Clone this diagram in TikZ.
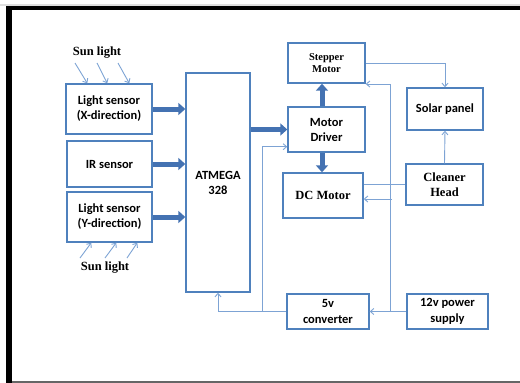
\documentclass[tikz,border=0pt]{standalone}
\usepackage{fontspec}
\setmainfont{Carlito}
\newfontfamily\serifb{Liberation Serif}
\usetikzlibrary{arrows.meta,calc}
\definecolor{boxblue}{RGB}{79,129,189}
\definecolor{wireblue}{RGB}{125,163,212}
\definecolor{fatblue}{RGB}{68,114,178}
\begin{document}
\begin{tikzpicture}[x=1pt,y=-1pt,
  box/.style={draw=boxblue,line width=1.4pt,fill=white,align=center,inner sep=0pt,
    font=\fontsize{12.5}{15}\selectfont\bfseries},
  sbox/.style={box,font=\fontsize{12.5}{15}\selectfont\serifb\bfseries},
  wire/.style={draw=wireblue,line width=0.9pt},
  warr/.style={wire,-{Straight Barb[length=3.5pt,width=6pt]}},
  fat/.style={draw=fatblue,line width=5pt,-{Triangle[length=7pt,width=12pt]}},
  lbl/.style={font=\fontsize{12.5}{15}\selectfont\serifb\bfseries}]
\useasboundingbox (0,0) rectangle (520,383);
% frame
\fill[gray!25] (0,3.5) rectangle (520,5.7);
\fill[black] (6,5.7) rectangle (520,10);
\fill[black] (6,5.7) rectangle (11.7,382.5);
\fill[gray!80!black] (11.7,380.7) rectangle (520,383);
% nodes
\node[box,minimum width=86pt,minimum height=50pt] (lsx) at (109,109) {Light sensor\\(X-direction)};
\node[box,minimum width=85pt,minimum height=46pt] (ir) at (109.5,164) {IR sensor};
\node[box,minimum width=85pt,minimum height=50pt] (lsy) at (109.5,217) {Light sensor\\(Y-direction)};
\node[box,minimum width=64pt,minimum height=219pt] (atm) at (218,182.5) {ATMEGA\\328};
\node[sbox,minimum width=77pt,minimum height=40pt,font=\fontsize{10.5}{12.5}\selectfont\serifb\bfseries] (step) at (326.5,63) {Stepper\\Motor};
\node[box,minimum width=77pt,minimum height=45pt] (drv) at (326.5,129.5) {Motor\\Driver};
\node[sbox,minimum width=80pt,minimum height=45pt] (dc) at (323,195.5) {DC Motor};
\node[box,minimum width=76pt,minimum height=42pt] (solar) at (445,109) {Solar panel};
\node[sbox,minimum width=77pt,minimum height=41pt] (clean) at (444.5,184.5) {Cleaner\\Head};
\node[box,minimum width=82pt,minimum height=35pt,font=\fontsize{12.5}{16}\selectfont\bfseries] (conv) at (328,311.5) {5v\\converter};
\node[box,minimum width=81pt,minimum height=35pt,font=\fontsize{12.5}{16}\selectfont\bfseries] (ps) at (447.5,311.5) {12v power\\supply};
% sun light labels
\node[lbl] (sun1) at (97,53) {Sun light};
\node[lbl] (sun2) at (105,268) {Sun light};
\coordinate (s1a) at (75,63);
\coordinate (s1b) at (97,63);
\coordinate (s1c) at (118,63);
\draw[warr] (s1a) -- ([xshift=22pt]lsx.north west);
\draw[warr] (s1b) -- ([xshift=42pt]lsx.north west);
\draw[warr] (s1c) -- ([xshift=64pt]lsx.north west);
\coordinate (s2a) at (80,258);
\coordinate (s2b) at (105,258);
\coordinate (s2c) at (127,258);
\draw[warr] (s2a) -- ([xshift=25pt]lsy.south west);
\draw[warr] (s2b) -- ([xshift=50pt]lsy.south west);
\draw[warr] (s2c) -- ([xshift=71pt]lsy.south west);
% fat arrows
\draw[fat] (lsx.east) -- (lsx.east -| atm.west);
\draw[fat] (ir.east) -- (ir.east -| atm.west);
\draw[fat] (lsy.east) -- (lsy.east -| atm.west);
\draw[fat] (drv.west -| atm.east) -- (drv.west);
\draw[fat] ([xshift=-4.5pt]drv.north) -- ([xshift=-4.5pt]step.south);
\draw[fat] ([xshift=-4.5pt]drv.south) -- ([xshift=-4.5pt]drv.south |- dc.north);
% thin wires
\draw[warr] (step.east) -- (step.east -| solar.north) -- (solar.north);
\draw[warr] (clean.north) -- (solar.south);
\draw[wire] (clean.west) -- (clean.west -| dc.east);
\coordinate (bt) at (390,84);
\coordinate (bd) at (392,199);
\coordinate (bb) at (390,311.5);
\draw[wire] (bb) -- (bt);
\draw[warr] (bt) -- (bt -| step.east);
\draw[warr] (bd) -- (bd -| dc.east);
\draw[warr] (ps.west) -- (conv.east);
\draw[warr] (conv.west) -| (atm.south);
\coordinate (mj) at (262,311.5);
\draw[warr] (mj) |- ($(drv.south west)+(0,-6)$);
\end{tikzpicture}
\end{document}
